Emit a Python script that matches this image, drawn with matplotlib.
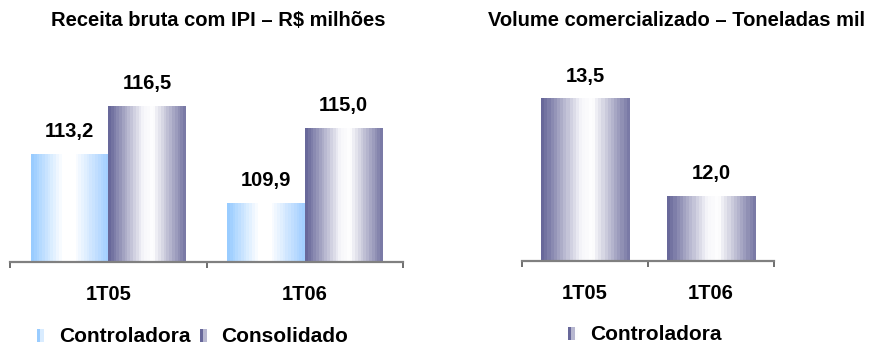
import numpy as np
import matplotlib
matplotlib.use("Agg")
import matplotlib.pyplot as plt
from matplotlib.colors import LinearSegmentedColormap
from matplotlib.legend_handler import HandlerBase
from matplotlib.patches import Rectangle

# quarterly figures
periods = ["1T05", "1T06"]
receita_controladora = [113.2, 109.9]
receita_consolidado = [116.5, 115.0]
volume_controladora = [13.5, 12.0]

plt.rcParams["font.family"] = ["Liberation Sans", "DejaVu Sans"]
FS = 14.5

# horizontal "cylinder" shading used on every bar
blue = LinearSegmentedColormap.from_list(
    "azul", [(0, "#99ccff"), (0.40, "#ffffff"), (0.56, "#ffffff"), (1, "#a3cfff")])
purple = LinearSegmentedColormap.from_list(
    "roxo", [(0, "#68689a"), (0.45, "#f6f6fa"), (0.58, "#ffffff"), (1, "#7a7aa6")])


def shade_bars(ax, bars, cmap, base):
    grad = np.linspace(0, 1, 28).reshape(1, -1)
    for b in bars:
        x0, w, top = b.get_x(), b.get_width(), b.get_height()
        ax.imshow(grad, cmap=cmap, extent=(x0, x0 + w, base, top),
                  aspect="auto", interpolation="nearest", zorder=2)


def label_bars(ax, bars):
    for b in bars:
        v = b.get_height()
        ax.annotate(f"{v:.1f}".replace(".", ","), (b.get_x() + b.get_width() / 2, v),
                    xytext=(0, 16.5), textcoords="offset points",
                    ha="center", va="center", fontsize=FS, fontweight="bold")


class StripeHandler(HandlerBase):
    def __init__(self, cmap):
        super().__init__()
        self.cmap = cmap

    def create_artists(self, legend, orig_handle, xdescent, ydescent,
                       width, height, fontsize, trans):
        sw = width / 3
        out = []
        for i, t in enumerate([0.0, 0.25, 0.55]):
            out.append(Rectangle((-xdescent + i * sw, -ydescent), sw, height,
                                 facecolor=self.cmap(t), edgecolor="none",
                                 transform=trans))
        return out


def style_axis(ax, ylim):
    ax.set_xlim(-0.5, 1.5)
    ax.set_ylim(*ylim)
    for s in ["top", "right", "left"]:
        ax.spines[s].set_visible(False)
    ax.spines["bottom"].set_color("#808080")
    ax.spines["bottom"].set_linewidth(1.6)
    ax.spines["bottom"].set_zorder(3)
    ax.set_yticks([])
    ax.set_xticks([-0.5, 0.5, 1.5])
    ax.set_xticklabels([])
    ax.set_xticks([0, 1], minor=True)
    ax.set_xticklabels(periods, minor=True)
    ax.tick_params(axis="x", which="major", length=4, width=1.2, color="#555555")
    ax.tick_params(axis="x", which="minor", length=0, pad=16.5, labelsize=FS)
    for t in ax.get_xticklabels(minor=True):
        t.set_fontweight("bold")


def add_legend(handles, labels, cmaps, anchor, **kw):
    return fig.legend(handles, labels,
                      handler_map={h: StripeHandler(c) for h, c in zip(handles, cmaps)},
                      loc="center left", bbox_to_anchor=anchor, frameon=False,
                      prop={"weight": "bold", "size": 15},
                      handlelength=0.5, handleheight=0.6, handletextpad=0.55,
                      borderpad=0, borderaxespad=0, **kw)


W, H = 876, 347
fig = plt.figure(figsize=(W / 100, H / 100), dpi=100)
x = np.arange(len(periods))

# left: gross revenue
ax1 = fig.add_axes([10 / W, 85 / H, 393 / W, 222 / H])
bw = 0.395
b1 = ax1.bar(x - bw / 2, receita_controladora, bw, color="none")
b2 = ax1.bar(x + bw / 2, receita_consolidado, bw, color="none")
base1 = 105.9
shade_bars(ax1, b1, blue, base1)
shade_bars(ax1, b2, purple, base1)
label_bars(ax1, b1)
label_bars(ax1, b2)
style_axis(ax1, (base1, 121.0))

h1, h2 = Rectangle((0, 0), 1, 1), Rectangle((0, 0), 1, 1)
add_legend([h1, h2], ["Controladora", "Consolidado"], [blue, purple],
           (37 / W, 10 / H), ncol=2, columnspacing=0.45)

# right: sold volume
ax2 = fig.add_axes([522 / W, 86 / H, 252 / W, 221 / H])
b3 = ax2.bar(x, volume_controladora, 0.70, color="none")
base2 = 11.0
shade_bars(ax2, b3, purple, base2)
label_bars(ax2, b3)
style_axis(ax2, (base2, 14.41))

h3 = Rectangle((0, 0), 1, 1)
add_legend([h3], ["Controladora"], [purple], (568 / W, 12 / H))

fig.text(218 / W, 1 - 20 / H, "Receita bruta com IPI – R$ milhões",
         ha="center", va="center", fontsize=FS, fontweight="bold")
fig.text(676 / W, 1 - 20 / H, "Volume comercializado – Toneladas mil",
         ha="center", va="center", fontsize=FS, fontweight="bold")

fig.savefig("out.png", dpi=100)
